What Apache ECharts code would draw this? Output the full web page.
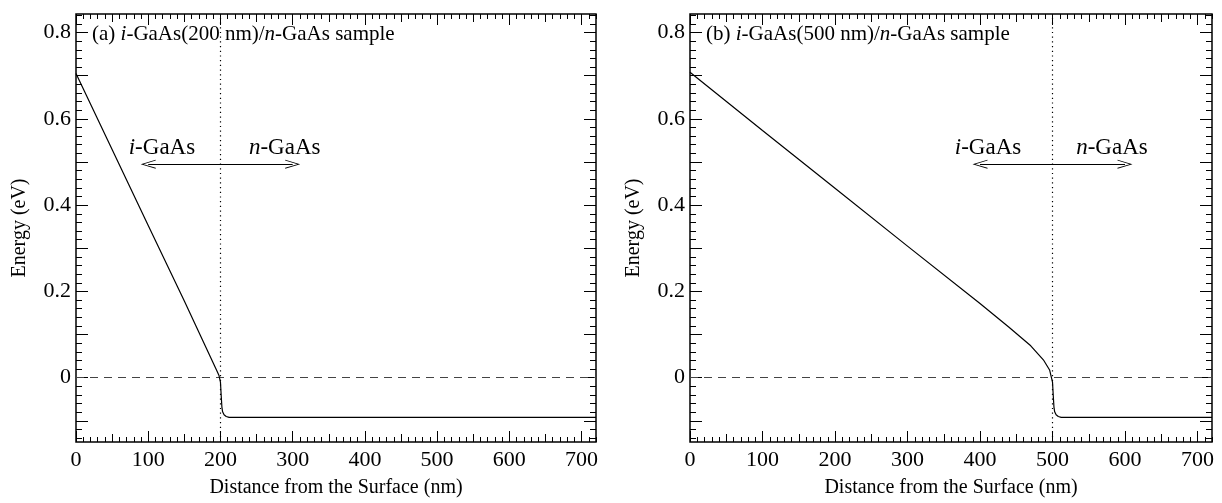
<!DOCTYPE html>
<html>
<head>
<meta charset="utf-8">
<script src="https://cdn.jsdelivr.net/npm/echarts@6/dist/echarts.min.js"></script>
<style>html,body{margin:0;padding:0;background:#fff}#c{width:1222px;height:503px}</style>
</head>
<body>
<div id="c"></div>
<script>
// ---- data ----
const curveA = [[0,0.705],[50,0.529],[100,0.353],[150,0.178],[180,0.070],[190,0.034],[195,0.016],[198,0.005],[200,-0.010],[201,-0.040],[202,-0.068],[203,-0.079],[205,-0.086],[208,-0.090],[212,-0.092],[720,-0.092]];
const curveB = [[0,0.708],[100,0.573],[200,0.439],[300,0.305],[400,0.172],[440,0.117],[470,0.074],[488,0.040],[496,0.018],[500,-0.010],[501,-0.040],[502,-0.068],[503,-0.079],[505,-0.086],[508,-0.090],[512,-0.092],[720,-0.092]];
const interfaceA = 200, interfaceB = 500;
const arrowA = [100, 300], arrowB = [400, 600], arrowE = 0.495;
const labelsA = [[119, 0.533], [289, 0.533]];
const labelsB = [[411, 0.533], [582, 0.533]];
const titles = ['(a) {i|i}-GaAs(200 nm)/{i|n}-GaAs sample', '(b) {i|i}-GaAs(500 nm)/{i|n}-GaAs sample'];
const xLabelTicks = [0,100,200,300,400,500,600,700];
const xMidTicks = [50,150,250,350,450,550,650];
const xMinorTicks = [];
for (let v = 10; v <= 720; v += 10) if (v % 50 !== 0) xMinorTicks.push(v);
const yLabelTicks = [0,0.2,0.4,0.6,0.8];
const yMajorTicks = [-0.1,0,0.1,0.2,0.3,0.4,0.5,0.6,0.7,0.8];
const yMinorTicks = [];
for (let k = -7; k <= 42; k++) if (k % 5 !== 0) yMinorTicks.push(+(k*0.02).toFixed(2));
const XMIN = 0, XMAX = 720, YMIN = -0.149, YMAX = 0.843;

const FONT = '"Liberation Serif", "DejaVu Serif", serif';
const chevron = 'path://M0,0 L7,16 L5.6,16 L0,3 L-5.6,16 L-7,16 Z';

const grids = [
  {left: 76, top: 14, width: 520, height: 433},
  {left: 690, top: 14, width: 522, height: 433}
];
const xAxes = [], yAxes = [];
function tickStyle(len, vals){ return {show:true, inside:true, length:len, customValues: vals, lineStyle:{color:'#000', width:1}}; }
grids.forEach((g, gi) => {
  ['bottom','top'].forEach(pos => {
    [[xLabelTicks, 11, true],[xMidTicks, 8, false],[xMinorTicks, 5, false]].forEach(([vals,len,lab]) => {
      const showLab = lab && pos === 'bottom';
      xAxes.push({
        type:'value', gridIndex: gi, position: pos, min: XMIN, max: XMAX,
        axisLine:{show:false, onZero:false}, splitLine:{show:false},
        axisTick: tickStyle(len, vals),
        axisLabel: showLab ? {show:true, customValues: xLabelTicks, margin: 7, color:'#000', fontFamily: FONT, fontSize: 22} : {show:false},
        name: showLab ? 'Distance from the Surface (nm)' : '',
        nameLocation:'middle', nameGap: 36,
        nameTextStyle:{color:'#000', fontFamily: FONT, fontSize: 20}
      });
    });
  });
  ['left','right'].forEach(pos => {
    [[yMajorTicks, 12, true],[yMinorTicks, 6, false]].forEach(([vals,len,lab]) => {
      const showLab = lab && pos === 'left';
      yAxes.push({
        type:'value', gridIndex: gi, position: pos, min: YMIN, max: YMAX,
        axisLine:{show:false, onZero:false}, splitLine:{show:false},
        axisTick: tickStyle(len, vals),
        axisLabel: showLab ? {show:true, customValues: yLabelTicks, margin: 5, color:'#000', fontFamily: FONT, fontSize: 22,
          formatter: v => Math.abs(v) < 1e-9 ? '0' : v.toFixed(1)} : {show:false},
        name: showLab ? 'Energy (eV)' : '',
        nameLocation:'middle', nameGap: 46,
        nameTextStyle:{color:'#000', fontFamily: FONT, fontSize: 20}
      });
    });
  });
});

function panelSeries(gi, curve, iface, arrow, labels){
  return {
    type:'line', xAxisIndex: gi*6, yAxisIndex: gi*4, data: curve,
    symbol:'none', smooth:false, silent:true, animation:false,
    lineStyle:{color:'#000', width:1.2}, z: 5,
    markLine:{
      silent:true, animation:false, symbol:'none', label:{show:false}, emphasis:{disabled:true},
      data:[
        {yAxis: 0, lineStyle:{type:[8,6], color:'#444', width:1.2}},
        {xAxis: iface, lineStyle:{type:[1.2,3.5], color:'#000', width:1.2}},
        [{coord:[arrow[0], arrowE], symbol: chevron, symbolSize:[9,15], lineStyle:{type:'solid', color:'#000', width:1}},
         {coord:[arrow[1], arrowE], symbol: chevron, symbolSize:[9,15]}]
      ]
    },
    markPoint:{
      silent:true, animation:false, symbol:'circle', symbolSize:1, itemStyle:{color:'rgba(0,0,0,0)'},
      label:{show:true, position:'inside', color:'#000', fontFamily: FONT, fontSize: 23,
        rich:{i:{fontStyle:'italic', fontFamily: FONT, fontSize: 23, color:'#000'}}},
      data:[
        {coord: labels[0], label:{formatter:'{i|i}-GaAs'}},
        {coord: labels[1], label:{formatter:'{i|n}-GaAs'}}
      ]
    }
  };
}

const chart = echarts.init(document.getElementById('c'), null, {renderer:'canvas'});
chart.setOption({
  animation:false,
  backgroundColor:'#fff',
  title: [
    {text: titles[0], left: 87, top: 19},
    {text: titles[1], left: 701, top: 19}
  ].map(t => Object.assign(t, {textStyle:{color:'#000', fontFamily: FONT, fontSize: 21, fontWeight:'normal',
      rich:{i:{fontStyle:'italic', fontFamily: FONT, fontSize: 21, color:'#000'}}}})),
  grid: grids.map(g => Object.assign({show:true, borderColor:'#000', borderWidth:1.5, backgroundColor:'transparent'}, g)),
  xAxis: xAxes,
  yAxis: yAxes,
  series: [
    panelSeries(0, curveA, interfaceA, arrowA, labelsA),
    panelSeries(1, curveB, interfaceB, arrowB, labelsB)
  ]
});
</script>
</body>
</html>
